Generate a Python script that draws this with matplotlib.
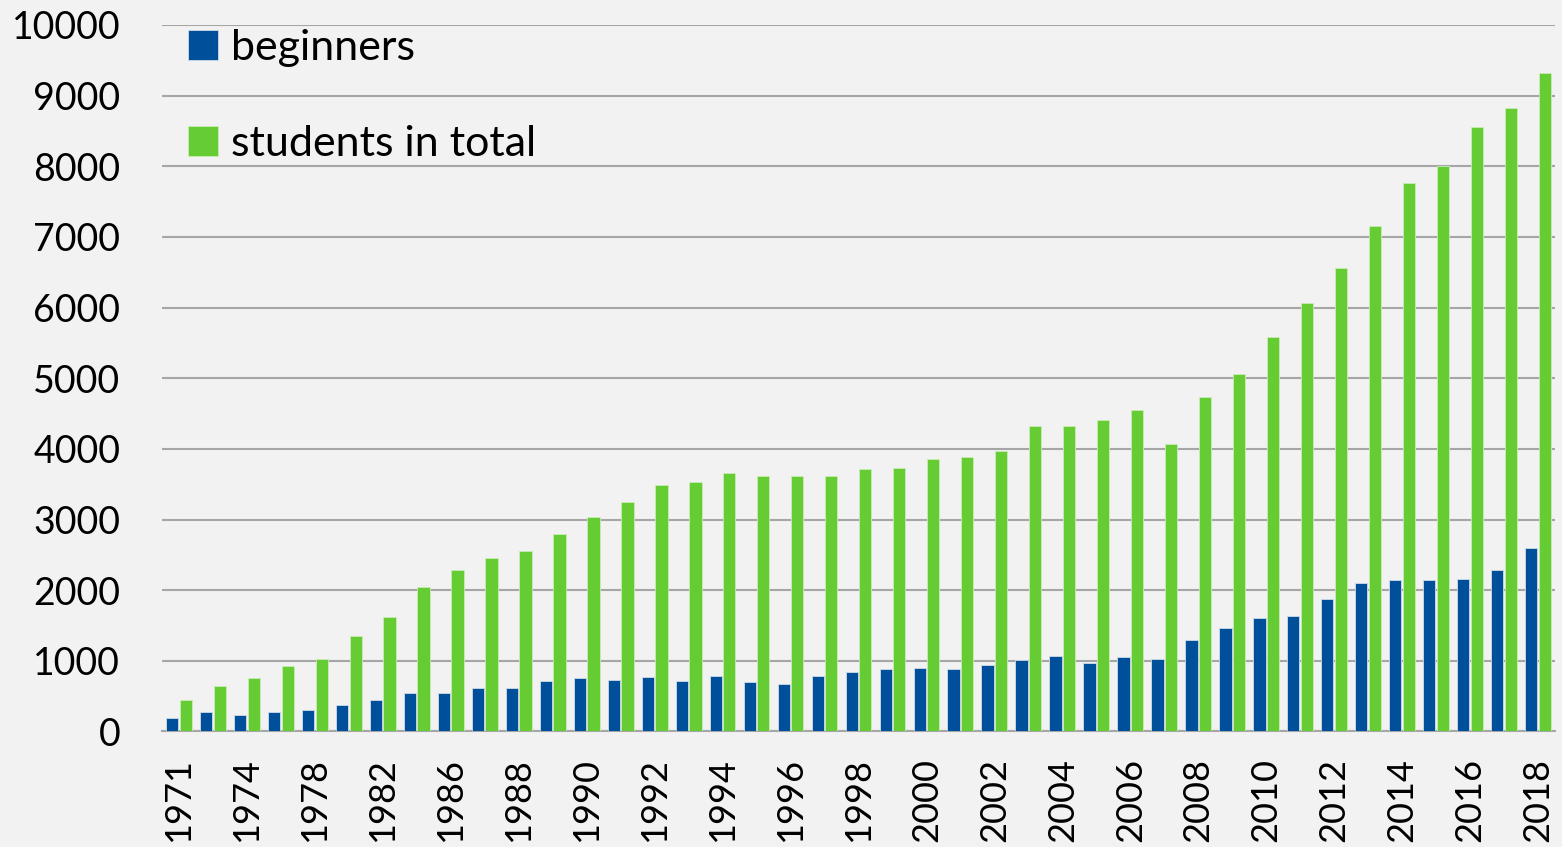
import numpy as np
import matplotlib.pyplot as plt

# years (only every other one is labelled on the axis)
years = ['1971', '1972', '1974', '1976', '1978', '1980', '1982', '1984',
         '1986', '1987', '1988', '1989', '1990', '1991', '1992', '1993',
         '1994', '1995', '1996', '1997', '1998', '1999', '2000', '2001',
         '2002', '2003', '2004', '2005', '2006', '2007', '2008', '2009',
         '2010', '2011', '2012', '2013', '2014', '2015', '2016', '2017', '2018']

beginners = [185, 270, 240, 280, 310, 380, 450, 550, 540, 610,
             610, 710, 750, 735, 765, 710, 780, 695, 665, 790,
             835, 890, 905, 890, 935, 1005, 1075, 975, 1050, 1030,
             1290, 1470, 1600, 1640, 1870, 2095, 2140, 2140, 2165, 2280,
             2590]

total = [450, 650, 750, 920, 1020, 1345, 1615, 2040, 2280, 2460,
         2550, 2790, 3030, 3255, 3495, 3525, 3665, 3610, 3620, 3610,
         3710, 3735, 3850, 3890, 3975, 4330, 4330, 4415, 4545, 4075,
         4730, 5055, 5590, 6060, 6555, 7150, 7770, 8010, 8550, 8830,
         9315]

plt.rcParams['font.family'] = ['Lato', 'DejaVu Sans']

bg = '#f2f2f2'
fig = plt.figure(figsize=(15.62, 8.47), dpi=100, facecolor=bg)
ax = fig.add_axes([0.1037, 0.1364, 0.8918, 0.8341])
ax.set_facecolor(bg)

x = np.arange(len(years))
w = 0.36
ax.bar(x - 0.2, beginners, w, color='#004f9b', edgecolor='#cfdbe8',
       linewidth=0.6, label='beginners', zorder=3)
ax.bar(x + 0.2, total, w, color='#66cc33', edgecolor='#c8ecb4',
       linewidth=0.6, label='students in total', zorder=3)

ax.set_xlim(-0.5, len(years) - 0.5)
ax.set_ylim(0, 10000)
ax.set_yticks(range(0, 10001, 1000))
ax.yaxis.grid(True, color='#a6a6a6', linewidth=1.5, zorder=0)
ax.set_axisbelow(True)

ax.set_xticks(x[::2])
ax.set_xticklabels(years[::2], rotation=90, fontsize=26, color='black')
ax.tick_params(axis='x', length=0, pad=19)
ax.tick_params(axis='y', length=0, pad=30, labelsize=27, labelcolor='black')

for s in ['top', 'right', 'left']:
    ax.spines[s].set_visible(False)
ax.spines['bottom'].set_color('#a6a6a6')
ax.spines['bottom'].set_linewidth(1.5)

leg = ax.legend(loc='upper left', bbox_to_anchor=(0.0187, 0.994), frameon=False,
                fontsize=31, handlelength=0.7, handleheight=0.7,
                handletextpad=0.3, labelspacing=1.35, borderaxespad=0,
                borderpad=0)

fig.savefig('out.png', dpi=100, facecolor=bg)
